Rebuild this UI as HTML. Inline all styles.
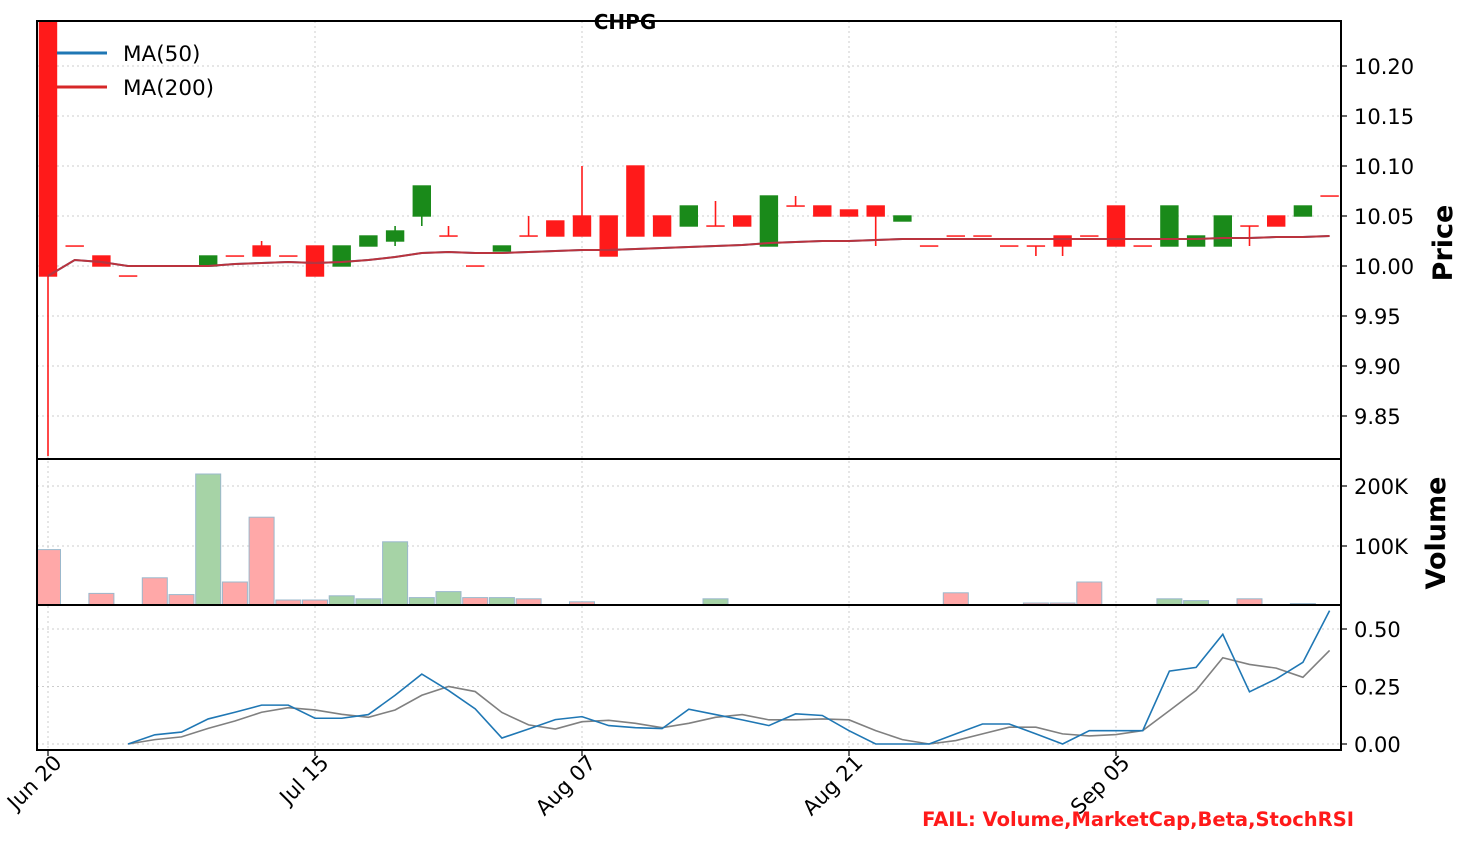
<!DOCTYPE html>
<html><head><meta charset="utf-8"><style>
body{margin:0;background:#fff;font-family:"Liberation Sans","DejaVu Sans",sans-serif;}
svg{display:block}
</style></head><body>
<svg id="chart" width="1470" height="853" xmlns="http://www.w3.org/2000/svg" font-family="DejaVu Sans, Liberation Sans, sans-serif"></svg>
<script>
const dates=["Jun 20","Jul 15","Aug 07","Aug 21","Sep 05"];
const dateIdx=[0,10,20,30,40];
const opens=[10.25,10.02,10.01,9.99,10.00,10.00,10.00,10.01,10.02,10.01,10.02,10.00,10.02,10.025,10.05,10.03,10.00,10.015,10.03,10.045,10.05,10.05,10.10,10.05,10.04,10.04,10.05,10.02,10.06,10.06,10.056,10.06,10.045,10.02,10.03,10.03,10.02,10.02,10.03,10.03,10.06,10.02,10.02,10.02,10.02,10.04,10.05,10.05,10.07];
const closes=[9.99,10.02,10.00,9.99,10.00,10.00,10.01,10.01,10.01,10.01,9.99,10.02,10.03,10.035,10.08,10.03,10.00,10.02,10.03,10.03,10.03,10.01,10.03,10.03,10.06,10.04,10.04,10.07,10.06,10.05,10.05,10.05,10.05,10.02,10.03,10.03,10.02,10.02,10.02,10.03,10.02,10.02,10.06,10.03,10.05,10.04,10.04,10.06,10.07];
const highs=[10.25,10.02,10.01,9.99,10.00,10.00,10.01,10.01,10.025,10.01,10.02,10.02,10.03,10.04,10.08,10.04,10.00,10.02,10.05,10.045,10.10,10.05,10.10,10.05,10.06,10.065,10.05,10.07,10.07,10.06,10.056,10.06,10.05,10.02,10.03,10.03,10.02,10.02,10.03,10.03,10.06,10.02,10.06,10.03,10.05,10.04,10.05,10.06,10.07];
const lows=[9.81,10.02,10.00,9.99,10.00,10.00,10.00,10.01,10.01,10.01,9.99,10.00,10.02,10.02,10.04,10.03,10.00,10.015,10.03,10.03,10.03,10.01,10.03,10.03,10.04,10.04,10.04,10.02,10.06,10.05,10.05,10.02,10.045,10.02,10.03,10.03,10.02,10.01,10.01,10.03,10.02,10.02,10.02,10.02,10.02,10.02,10.04,10.05,10.07];
const ma=[9.99,10.006,10.004,10.0,10.0,10.0,10.0,10.002,10.003,10.004,10.003,10.004,10.006,10.009,10.013,10.014,10.013,10.013,10.014,10.015,10.016,10.016,10.017,10.018,10.019,10.02,10.021,10.023,10.024,10.025,10.025,10.026,10.027,10.027,10.027,10.027,10.027,10.027,10.027,10.027,10.027,10.027,10.027,10.027,10.028,10.028,10.029,10.029,10.03];
const volumes=[94,0,21,0,47,19,220,40,148,10,10,17,12,107,14,24,14,14,12,2,7,2,2,0,0,12,0,0,0,0,0,2,2,0,22,0,0,5,5,40,0,0,12,9,0,12,1,4,1];
const volUp=[0,0,0,0,0,0,1,0,0,0,0,1,1,1,1,1,0,1,0,0,0,0,0,0,0,1,0,0,0,0,0,0,0,0,0,0,0,0,0,0,0,0,1,1,0,0,0,1,0];
const stochK=[null,null,null,0,0.04,0.052,0.109,0.138,0.169,0.169,0.112,0.112,0.128,0.212,0.304,0.233,0.153,0.026,0.065,0.106,0.119,0.08,0.071,0.067,0.151,0.128,0.105,0.08,0.131,0.124,0.058,0,0,0,0.044,0.087,0.087,0.044,0,0.058,0.058,0.058,0.317,0.333,0.477,0.227,0.283,0.355,0.58];
const stochD=[null,null,null,0,0.019,0.031,0.068,0.1,0.138,0.158,0.148,0.129,0.116,0.148,0.212,0.25,0.228,0.137,0.083,0.065,0.097,0.103,0.09,0.071,0.09,0.116,0.128,0.105,0.105,0.109,0.105,0.058,0.019,0,0.015,0.044,0.073,0.073,0.044,0.035,0.041,0.058,0.145,0.233,0.375,0.346,0.33,0.29,0.407];
const priceTicks=[9.85,9.90,9.95,10.00,10.05,10.10,10.15,10.20];
const volTicks=[100,200];
const volLabels=["100K","200K"];
const stTicks=[0,0.25,0.5];
const stLabels=["0.00","0.25","0.50"];

const NS="http://www.w3.org/2000/svg";
const svg=document.getElementById('chart');
const L=37,R=1341;
const X=i=>48+i*26.7;
const PY=v=>266-(v-10)*1000;
const VY=v=>606-v*0.6;
const SY=v=>744-v*230;
function mk(t,a,p){const e=document.createElementNS(NS,t);for(const k in a)e.setAttribute(k,a[k]);(p||svg).appendChild(e);return e;}
const defs=mk('defs',{});
const cp=mk('clipPath',{id:'pc'},defs);mk('rect',{x:L,y:21,width:R-L,height:438},cp);
const cv=mk('clipPath',{id:'vc'},defs);mk('rect',{x:L,y:459,width:R-L,height:146},cv);
const grid=mk('g',{stroke:'#ccc','stroke-dasharray':'2,3','stroke-width':1});


dateIdx.forEach(i=>{mk('line',{x1:X(i),x2:X(i),y1:21,y2:750},grid);});
priceTicks.forEach(v=>mk('line',{x1:L,x2:R,y1:PY(v),y2:PY(v)},grid));
volTicks.forEach(v=>mk('line',{x1:L,x2:R,y1:VY(v),y2:VY(v)},grid));
stTicks.forEach(v=>mk('line',{x1:L,x2:R,y1:SY(v),y2:SY(v)},grid));
const cg=mk('g',{'clip-path':'url(#pc)'});


opens.forEach((o,i)=>{
  const c=closes[i];const up=c>o;const col=up?'#1a8a1a':'#ff1a1a';
  const g=mk('g',{},cg);
  
  
  mk('line',{x1:X(i),x2:X(i),y1:PY(highs[i]),y2:PY(lows[i]),stroke:col,'stroke-width':1.6},g);
  const top=PY(Math.max(o,c)),bot=PY(Math.min(o,c));
  mk('rect',{x:X(i)-8.5,y:top,width:17,height:Math.max(bot-top,0.1),fill:col,stroke:col,'stroke-width':1.4},g);
});
let d='';ma.forEach((v,i)=>{d+=(i?'L':'M')+X(i)+','+PY(v);});
const m50=mk('path',{d:d,fill:'none',stroke:'#1f77b4','stroke-width':2,'clip-path':'url(#pc)'});

const m200=mk('path',{d:d,fill:'none',stroke:'#d62728','stroke-width':2,opacity:0.85,'clip-path':'url(#pc)'});

const vg=mk('g',{'clip-path':'url(#vc)'});


volumes.forEach((v,i)=>{
  if(v<=0)return;const up=volUp[i]===1;
  const r=mk('rect',{x:X(i)-12.5,y:VY(v),width:25,height:606-VY(v),fill:up?'#a6d3a6':'#ffa8a8',stroke:'#9bb8cc','stroke-width':1},vg);
  
  
});
function line(arr,col,name){let s='';let st=false;arr.forEach((v,i)=>{if(v==null)return;s+=(st?'L':'M')+X(i)+','+SY(v);st=true;});
 const p=mk('path',{d:s,fill:'none',stroke:col,'stroke-width':1.6});}
line(stochD,'#808080','stoch-d-line');
line(stochK,'#1f77b4','stoch-k-line');
[[21,459],[459,605],[605,750]].forEach(([a,b],k)=>{const r=mk('rect',{x:L,y:a,width:R-L,height:b-a,fill:'none',stroke:'#000','stroke-width':2});
 });
const tg=mk('g',{'font-size':'21',fill:'#000'});


priceTicks.forEach(v=>{mk('line',{x1:R,x2:R+6,y1:PY(v),y2:PY(v),stroke:'#000','stroke-width':1.2},tg);const t=mk('text',{x:R+13,y:PY(v)+8},tg);t.textContent=v.toFixed(2);});
volTicks.forEach((v,k)=>{mk('line',{x1:R,x2:R+6,y1:VY(v),y2:VY(v),stroke:'#000','stroke-width':1.2},tg);const t=mk('text',{x:R+13,y:VY(v)+8},tg);t.textContent=volLabels[k];});
stTicks.forEach((v,k)=>{mk('line',{x1:R,x2:R+6,y1:SY(v),y2:SY(v),stroke:'#000','stroke-width':1.2},tg);const t=mk('text',{x:R+13,y:SY(v)+8},tg);t.textContent=stLabels[k];});
dateIdx.forEach((i,k)=>{mk('line',{x1:X(i),x2:X(i),y1:750,y2:756,stroke:'#000','stroke-width':1.2},tg);
 const t=mk('text',{x:X(i)+15,y:764,'text-anchor':'end',transform:`rotate(-45 ${X(i)+15} 764)`},tg);t.textContent=dates[k];});
function txt(s,a,name){const t=mk('text',a);t.textContent=s;return t;}
txt('Price',{x:1452,y:243,'font-size':'27','font-weight':'bold','text-anchor':'middle',transform:'rotate(-90 1452 243)'},'price-axis-title');
txt('Volume',{x:1445,y:533,'font-size':'27','font-weight':'bold','text-anchor':'middle',transform:'rotate(-90 1445 533)'},'volume-axis-title');
txt('CHPG',{x:625,y:29,'font-size':'20','font-weight':'bold','text-anchor':'middle'},'chart-title');
txt('FAIL: Volume,MarketCap,Beta,StochRSI',{x:1354,y:826,'font-size':'19.5','font-weight':'bold','text-anchor':'end',fill:'#ff1a1a'},'fail-message');
const lg=mk('g',{'font-size':'21.5'});


mk('line',{x1:57,x2:107,y1:53,y2:53,stroke:'#1f77b4','stroke-width':3},lg);
let t=mk('text',{x:123,y:61},lg);t.textContent='MA(50)';
mk('line',{x1:57,x2:107,y1:87,y2:87,stroke:'#d62728','stroke-width':3},lg);
t=mk('text',{x:123,y:95},lg);t.textContent='MA(200)';
</script>
</body></html>
